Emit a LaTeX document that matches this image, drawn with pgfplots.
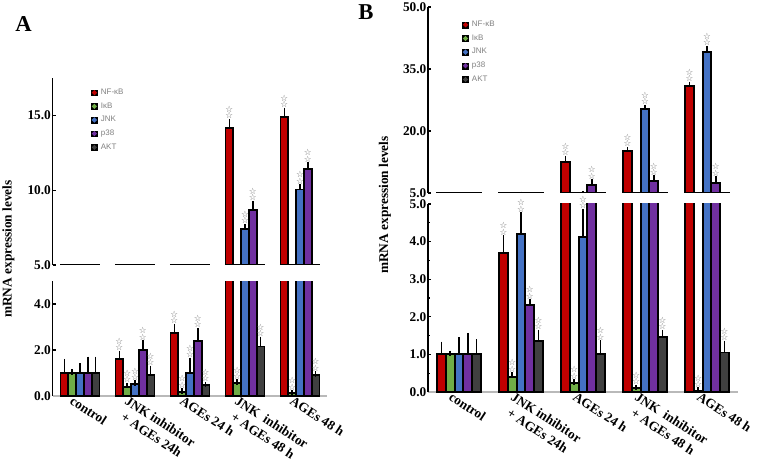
\documentclass[border=0pt]{standalone}
\usepackage{pgfplots}
\pgfplotsset{compat=1.18}
\usepackage{pgfplotstable}
\usepackage{fontspec}
\setmainfont{Liberation Serif}
\setsansfont{Liberation Sans}
\newfontfamily\djv{DejaVu Sans}

\definecolor{cNF}{HTML}{C00000}
\definecolor{cIKB}{HTML}{70AD47}
\definecolor{cJNK}{HTML}{4472C4}
\definecolor{cPT}{HTML}{7030A0}
\definecolor{cAKT}{HTML}{404040}
\definecolor{starc}{HTML}{707070}

% panel A: means and upper error (SD)
\pgfplotstableread{
g nf    nfe  ikb  ikbe jnk   jnke p38   p38e akt  akte
0 1.0   0.50 1.0  0.05 1.0   0.30 1.0   0.60 1.0  0.60
1 1.60  0.24 0.40 0.05 0.52  0.04 2.0   0.31 0.90 0.30
2 2.75  0.27 0.18 0.04 1.0   0.55 2.41  0.43 0.48 0.02
3 14.18 0.40 0.57 0.04 7.40  0.16 8.67  0.43 2.15 0.32
4 14.92 0.40 0.12 0.02 10.05 0.18 11.44 0.25 0.93 0.03
}\dataA

% panel B
\pgfplotstableread{
g nf    nfe  ikb  ikbe jnk   jnke p38   p38e akt  akte
0 1.0   0.27 1.0  0.03 1.0   0.38 1.0   0.50 1.0  0.33
1 3.70  0.40 0.40 0.06 4.21  0.50 2.31  0.09 1.36 0.22
2 12.6  0.75 0.24 0.03 4.12  0.68 6.95  0.75 1.02 0.29
3 15.2  0.30 0.10 0.02 25.3  0.40 8.0   0.60 1.47 0.11
4 30.9  0.40 0.04 0.01 39.06 0.90 7.4   1.00 1.05 0.24
}\dataB

\pgfplotsset{
  bars/.style={ybar, bar width=0.142, bar shift=0pt, draw=black, line width=1.4pt,
    fill=#1,
    legend image code/.code={
      \draw[black, fill=black, line width=0.3pt] (0pt,-2.2pt) rectangle (4.4pt,2.2pt);
      \fill[#1] (2.2pt,0pt) circle (1pt);},
    error bars/.cd, y dir=plus, y explicit,
    error bar style={line width=1.2pt, black},
    error mark options={line width=1.2pt, mark size=2pt, black}},
  stars/.style={draw=none, mark=none, forget plot,
    skip coords between index={0}{1},
    nodes near coords={☆\\[-0.8pt]☆},
    every node near coord/.style={anchor=south, align=center, inner sep=0pt, yshift=1.8pt,
      text=starc, font=\djv\fontsize{6.5}{5.5}\selectfont}},
  base/.style={scale only axis, xmin=-0.5, xmax=4.5,
    axis y line*=left, axis x line*=bottom,
    tick align=inside, major tick length=2.5pt, minor tick length=1.5pt,
    y axis line style={line width=1.4pt, black},
    tick style={line width=0.8pt, black},
    yticklabel style={font=\bfseries, inner sep=1pt}},
  upper/.style={base, xtick=\empty, x axis line style={draw=none},
    legend style={draw=none, fill=none, font=\sffamily\fontsize{6}{7}\selectfont,
      text=gray, inner sep=0pt, row sep=0.6pt,
      /tikz/every odd column/.append style={column sep=0.5pt}},
    legend cell align=left},
  lower/.style={base, ymin=0, ymax=5,
    x axis line style={gray!55, line width=0.8pt},
    xtick={0,...,4}, xtick style={draw=none},
    xticklabels={control, {JNK inhibitor\\+ AGEs 24h}, AGEs 24 h,
      {JNK\ \ inhibitor\\+ AGEs 48 h}, AGEs 48 h},
    xticklabel style={rotate=-33, anchor=north west, align=center, font=\bfseries,
      inner sep=1pt, xshift=-5pt, yshift=-1pt}},
}

\newcommand\allbars[1]{%
  \addplot[bars=cNF] table[x expr=\thisrow{g}-0.284, y=nf, y error=nfe]{#1};
  \addplot[bars=cIKB] table[x expr=\thisrow{g}-0.142, y=ikb, y error=ikbe]{#1};
  \addplot[bars=cJNK] table[x expr=\thisrow{g}, y=jnk, y error=jnke]{#1};
  \addplot[bars=cPT] table[x expr=\thisrow{g}+0.142, y=p38, y error=p38e]{#1};
  \addplot[bars=cAKT] table[x expr=\thisrow{g}+0.284, y=akt, y error=akte]{#1};
}
\newcommand\allstars[2]{%
  \addplot[stars, restrict y to domain=#2] table[x expr=\thisrow{g}-0.284, y expr=\thisrow{nf}+\thisrow{nfe}]{#1};
  \addplot[stars, restrict y to domain=#2] table[x expr=\thisrow{g}-0.142, y expr=\thisrow{ikb}+\thisrow{ikbe}]{#1};
  \addplot[stars, restrict y to domain=#2] table[x expr=\thisrow{g}, y expr=\thisrow{jnk}+\thisrow{jnke}]{#1};
  \addplot[stars, restrict y to domain=#2] table[x expr=\thisrow{g}+0.142, y expr=\thisrow{p38}+\thisrow{p38e}]{#1};
  \addplot[stars, restrict y to domain=#2] table[x expr=\thisrow{g}+0.284, y expr=\thisrow{akt}+\thisrow{akte}]{#1};
}
\newcommand\baseline{%
  \addplot[gray!55, line width=1.4pt, forget plot, unbounded coords=jump] coordinates {
    (-0.37,5) (0.37,5) (0.5,nan) (0.63,5) (1.37,5) (1.5,nan) (1.63,5) (2.37,5)
    (2.5,nan) (2.63,5) (3.37,5) (3.5,nan) (3.63,5) (4.37,5)};
}

\begin{document}
\begin{tikzpicture}
\path[use as bounding box] (0,0) rectangle (567.75pt,345.75pt);

% ---- panel A ----
\begin{axis}[upper, at={(39.375pt,147pt)}, anchor=south west,
  width=206.25pt, height=140.25pt,
  ymin=5, ymax=17.5, ytick={5,10,15}, yticklabels={5.0,10.0,15.0},
  legend style={at={(0.14,0.957)}, anchor=north west}]
\baseline
\allbars{\dataA}
\allstars{\dataA}{5:100}
\legend{NF-κB, IκB, JNK, p38, AKT}
\end{axis}

\begin{axis}[lower, at={(39.375pt,48.75pt)}, anchor=south west,
  width=206.25pt, height=86.25pt,
  ytick={0,2,4}, yticklabels={0.0,2.0,4.0}]
\allbars{\dataA}
\allstars{\dataA}{0:5.2}
\end{axis}

% ---- panel B ----
\begin{axis}[upper, at={(321pt,201pt)}, anchor=south west,
  width=232.5pt, height=139.5pt,
  ymin=5, ymax=50, ytick={5,20,35,50}, yticklabels={5.0,20.0,35.0,50.0},
  legend style={at={(0.11,0.94)}, anchor=north west}]
\baseline
\allbars{\dataB}
\allstars{\dataB}{5:100}
\legend{NF-κB, IκB, JNK, p38, AKT}
\end{axis}

\begin{axis}[lower, at={(321pt,51.75pt)}, anchor=south west,
  width=232.5pt, height=141pt,
  ytick={0,1,2,3,4,5}, yticklabels={0.0,1.0,2.0,3.0,4.0,5.0},
  minor y tick num=1]
\allbars{\dataB}
\allstars{\dataB}{0:5.2}
\end{axis}

\node[font=\bfseries\fontsize{17}{17}\selectfont] at (17.6pt,327.75pt) {A};
\node[font=\bfseries\fontsize{17}{17}\selectfont] at (274.5pt,336.4pt) {B};
\node[font=\bfseries, rotate=90] at (6.4pt,159pt) {mRNA expression levels};
\node[font=\bfseries, rotate=90] at (288.75pt,192pt) {mRNA expression levels};
\end{tikzpicture}
\end{document}
